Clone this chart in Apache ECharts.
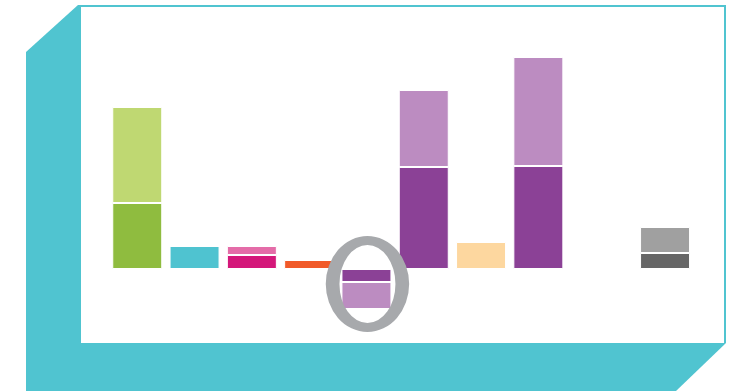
<!DOCTYPE html>
<html>
<head>
<meta charset="utf-8">
<script src="https://cdn.jsdelivr.net/npm/echarts@6/dist/echarts.min.js"></script>
<style>
  html, body { margin: 0; padding: 0; background: #fff; }
  #chart { width: 751px; height: 391px; }
</style>
</head>
<body>
<div id="chart"></div>
<script>
// Main group of categories
const categories = ['1', '2', '3', '4', '5', '6', '7', '8'];
const baseValues = [66, 23, 14, 9, -13, 102, 27, 103];
const topValues = [96, '-', 9, '-', -27, 77, '-', 109];

// Separate single category on the right
const extraCategories = ['9'];
const extraBase = [16];
const extraTop = [26];

// Fill colours per bar (lower segment / upper segment)
const baseColors = ['#8FBC3F', '#4FC3D0', '#D4177A', '#F15A29', '#8B4196', '#8B4196', '#FDD79F', '#8B4196'];
const topColors = ['#BFD872', '#4FC3D0', '#E46CA8', '#F15A29', '#BC8CC1', '#BC8CC1', '#FDD79F', '#BC8CC1'];
const extraBaseColor = '#666666';
const extraTopColor = '#A0A0A0';

const TEAL = '#50C4D0';
const Y_MIN = -61, Y_MAX = 239;

function styled(values, colors) {
  return values.map((v, i) => ({ value: v, itemStyle: { color: colors[i] } }));
}

const barStyle = { borderColor: '#ffffff', borderWidth: 1 };

// Highlighted category: the one with a negative value
const hiIndex = baseValues.findIndex(v => v < 0);

// Elliptical ring drawn around a point given in data coordinates
function renderRing(params, api) {
  const p = api.coord([api.value(0), api.value(1)]);
  const cx = p[0] + 1, cy = p[1];
  const ox = 41.7, oy = 48, ix = 28, iy = 39;
  const d =
    `M${-ox},0 A${ox},${oy} 0 1 1 ${ox},0 A${ox},${oy} 0 1 1 ${-ox},0 Z ` +
    `M${-ix},0 A${ix},${iy} 0 1 0 ${ix},0 A${ix},${iy} 0 1 0 ${-ix},0 Z`;
  return {
    type: 'path',
    shape: { pathData: d, x: cx - ox, y: cy - oy, width: ox * 2, height: oy * 2, layout: 'cover' },
    style: { fill: '#A7A9AC' }
  };
}

const chart = echarts.init(document.getElementById('chart'), null, { renderer: 'canvas' });

chart.setOption({
  animation: false,
  backgroundColor: '#ffffff',
  grid: [
    { left: 108.6, top: 30, width: 458.4, height: 300 },
    { left: 636.4, top: 30, width: 57.3, height: 300 }
  ],
  xAxis: [
    { type: 'category', gridIndex: 0, data: categories, show: false },
    { type: 'category', gridIndex: 1, data: extraCategories, show: false }
  ],
  yAxis: [
    { type: 'value', gridIndex: 0, min: Y_MIN, max: Y_MAX, show: false },
    { type: 'value', gridIndex: 1, min: Y_MIN, max: Y_MAX, show: false }
  ],
  graphic: [
    {
      type: 'polygon', z: -10,
      shape: { points: [[26, 52], [78, 5], [726, 5], [726, 343], [676, 391], [26, 391]] },
      style: { fill: TEAL }
    },
    {
      type: 'rect', z: -9,
      shape: { x: 81, y: 7, width: 643, height: 336 },
      style: { fill: '#ffffff' }
    }
  ],
  series: [
    {
      type: 'bar', xAxisIndex: 0, yAxisIndex: 0, stack: 'main', barWidth: 50,
      itemStyle: barStyle, data: styled(baseValues, baseColors)
    },
    {
      type: 'bar', xAxisIndex: 0, yAxisIndex: 0, stack: 'main', barWidth: 50,
      itemStyle: barStyle, data: styled(topValues, topColors)
    },
    {
      type: 'bar', xAxisIndex: 1, yAxisIndex: 1, stack: 'extra', barWidth: 50,
      itemStyle: Object.assign({ color: extraBaseColor }, barStyle), data: extraBase
    },
    {
      type: 'bar', xAxisIndex: 1, yAxisIndex: 1, stack: 'extra', barWidth: 50,
      itemStyle: Object.assign({ color: extraTopColor }, barStyle), data: extraTop
    },
    {
      type: 'custom', xAxisIndex: 0, yAxisIndex: 0, z: 10,
      renderItem: renderRing,
      data: [[hiIndex, -15]]
    }
  ]
});
</script>
</body>
</html>
